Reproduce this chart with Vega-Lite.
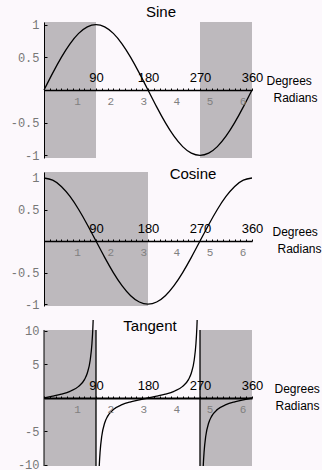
{
  "$schema": "https://vega.github.io/schema/vega-lite/v6.json",
  "background": "#fcf8fc",
  "padding": {"left": 10, "top": 4, "right": 0, "bottom": 0},
  "config": {
    "view": {"stroke": null},
    "axis": {"grid": false},
    "axisY": {"title": null, "tickColor": "#000", "domainColor": "#000",
      "labelFont": "Liberation Mono", "labelFontSize": 12, "labelColor": "#777"},
    "title": {"font": "Liberation Sans", "fontSize": 15, "fontWeight": "normal", "color": "#000", "anchor": "middle", "baseline": "alphabetic"}
  },
  "datasets": {
    "sin": [
      {"d": 0, "v": 0}, {"d": 15, "v": 0.2588}, {"d": 30, "v": 0.5}, {"d": 45, "v": 0.7071}, {"d": 60, "v": 0.866}, {"d": 75, "v": 0.9659},
      {"d": 90, "v": 1}, {"d": 105, "v": 0.9659}, {"d": 120, "v": 0.866}, {"d": 135, "v": 0.7071}, {"d": 150, "v": 0.5}, {"d": 165, "v": 0.2588},
      {"d": 180, "v": 0}, {"d": 195, "v": -0.2588}, {"d": 210, "v": -0.5}, {"d": 225, "v": -0.7071}, {"d": 240, "v": -0.866}, {"d": 255, "v": -0.9659},
      {"d": 270, "v": -1}, {"d": 285, "v": -0.9659}, {"d": 300, "v": -0.866}, {"d": 315, "v": -0.7071}, {"d": 330, "v": -0.5}, {"d": 345, "v": -0.2588},
      {"d": 360, "v": 0}
    ],
    "cos": [
      {"d": 0, "v": 1}, {"d": 15, "v": 0.9659}, {"d": 30, "v": 0.866}, {"d": 45, "v": 0.7071}, {"d": 60, "v": 0.5}, {"d": 75, "v": 0.2588},
      {"d": 90, "v": 0}, {"d": 105, "v": -0.2588}, {"d": 120, "v": -0.5}, {"d": 135, "v": -0.7071}, {"d": 150, "v": -0.866}, {"d": 165, "v": -0.9659},
      {"d": 180, "v": -1}, {"d": 195, "v": -0.9659}, {"d": 210, "v": -0.866}, {"d": 225, "v": -0.7071}, {"d": 240, "v": -0.5}, {"d": 255, "v": -0.2588},
      {"d": 270, "v": 0}, {"d": 285, "v": 0.2588}, {"d": 300, "v": 0.5}, {"d": 315, "v": 0.7071}, {"d": 330, "v": 0.866}, {"d": 345, "v": 0.9659},
      {"d": 360, "v": 1}
    ],
    "tan": [
      {"b": 1, "d": 0, "v": 0}, {"b": 1, "d": 15, "v": 0.268}, {"b": 1, "d": 30, "v": 0.577}, {"b": 1, "d": 45, "v": 1}, {"b": 1, "d": 60, "v": 1.732},
      {"b": 1, "d": 70, "v": 2.747}, {"b": 1, "d": 75, "v": 3.732}, {"b": 1, "d": 80, "v": 5.671}, {"b": 1, "d": 83, "v": 8.144}, {"b": 1, "d": 84, "v": 9.514},
      {"b": 1, "d": 85, "v": 11.43}, {"b": 1, "d": 86, "v": 14.3},
      {"b": 2, "d": 94, "v": -14.3}, {"b": 2, "d": 95, "v": -11.43}, {"b": 2, "d": 96, "v": -9.514}, {"b": 2, "d": 97, "v": -8.144}, {"b": 2, "d": 100, "v": -5.671},
      {"b": 2, "d": 105, "v": -3.732}, {"b": 2, "d": 110, "v": -2.747}, {"b": 2, "d": 120, "v": -1.732}, {"b": 2, "d": 135, "v": -1}, {"b": 2, "d": 150, "v": -0.577},
      {"b": 2, "d": 165, "v": -0.268}, {"b": 2, "d": 180, "v": 0}, {"b": 2, "d": 195, "v": 0.268}, {"b": 2, "d": 210, "v": 0.577}, {"b": 2, "d": 225, "v": 1},
      {"b": 2, "d": 240, "v": 1.732}, {"b": 2, "d": 250, "v": 2.747}, {"b": 2, "d": 255, "v": 3.732}, {"b": 2, "d": 260, "v": 5.671}, {"b": 2, "d": 263, "v": 8.144},
      {"b": 2, "d": 264, "v": 9.514}, {"b": 2, "d": 265, "v": 11.43}, {"b": 2, "d": 266, "v": 14.3},
      {"b": 3, "d": 274, "v": -14.3}, {"b": 3, "d": 275, "v": -11.43}, {"b": 3, "d": 276, "v": -9.514}, {"b": 3, "d": 277, "v": -8.144}, {"b": 3, "d": 280, "v": -5.671},
      {"b": 3, "d": 285, "v": -3.732}, {"b": 3, "d": 290, "v": -2.747}, {"b": 3, "d": 300, "v": -1.732}, {"b": 3, "d": 315, "v": -1}, {"b": 3, "d": 330, "v": -0.577},
      {"b": 3, "d": 345, "v": -0.268}, {"b": 3, "d": 360, "v": 0}
    ],
    "shadeSin": [{"a": 0, "e": 90}, {"a": 270, "e": 360}],
    "shadeCos": [{"a": 0, "e": 180}],
    "asym": [{"d": 90}, {"d": 270}],
    "zero": [{"d": 0}],
    "rad": [{"r": 0}, {"r": 6.2832}]
  },
  "vconcat": [
    {
      "title": {"text": "Sine", "dx": 13, "offset": -1},
      "width": 208, "height": 136,
      "resolve": {"scale": {"x": "independent"}, "axis": {"x": "independent"}},
      "layer": [
        {
          "data": {"name": "shadeSin"},
          "mark": {"type": "rect", "color": "#bdb9bd"},
          "encoding": {
            "x": {"field": "a", "type": "quantitative", "scale": {"domain": [0, 360], "nice": false, "zero": false},
              "axis": {"orient": "top", "offset": -68, "zindex": 1, "values": [0,10,20,30,40,50,60,70,80,90,100,110,120,130,140,150,160,170,180,190,200,210,220,230,240,250,260,270,280,290,300,310,320,330,340,350,360],
                "labelExpr": "datum.value % 90 == 0 && datum.value > 0 ? datum.label : ''",
                "tickSize": 2, "tickColor": "#000", "domainColor": "#000", "domainWidth": 1.5,
                "labelFont": "Liberation Sans", "labelFontSize": 13, "labelColor": "#000", "labelPadding": 4,
                "labelFlush": false, "labelOverlap": false, "labelBound": false,
                "title": "Degrees", "titleX": 222, "titleY": -6, "titleAlign": "left", "titleBaseline": "alphabetic", "titleAngle": 0,
                "titleFont": "Liberation Sans", "titleFontSize": 12, "titleFontWeight": "normal", "titleColor": "#000"}},
            "x2": {"field": "e"},
            "y": {"datum": 1.04, "type": "quantitative", "scale": {"domain": [-1.04, 1.04], "nice": false, "zero": false},
              "axis": {"zindex": 1, "tickSize": -3, "labelPadding": 8, "labelOverlap": false, "labelFlush": false, "labelBound": false,
                "values": [-1, -0.5, 0.5, 1], "labelExpr": "toString(datum.value)"}},
            "y2": {"datum": -1.04}
          }
        },
        {
          "data": {"name": "rad"},
          "mark": {"type": "point", "opacity": 0},
          "encoding": {
            "x": {"field": "r", "type": "quantitative", "scale": {"domain": [0, 6.2832], "nice": false, "zero": false},
              "axis": {"orient": "bottom", "offset": -68, "zindex": 1, "values": [1,2,3,4,5,6], "ticks": false, "domain": false,
                "labelFont": "Liberation Mono", "labelFontSize": 11, "labelColor": "#808080", "labelPadding": 5, "labelOverlap": false, "labelFlush": false,
                "title": "Radians", "titleX": 229, "titleY": 11, "titleAlign": "left", "titleBaseline": "alphabetic", "titleAngle": 0,
                "titleFont": "Liberation Sans", "titleFontSize": 12, "titleFontWeight": "normal", "titleColor": "#000"}},
            "y": {"datum": 0, "type": "quantitative"}
          }
        },
        {
          "data": {"name": "sin"},
          "mark": {"type": "line", "color": "#000", "strokeWidth": 1.3, "interpolate": "natural"},
          "encoding": {
            "x": {"field": "d", "type": "quantitative", "scale": {"domain": [0, 360], "nice": false, "zero": false}, "axis": null},
            "y": {"field": "v", "type": "quantitative"}
          }
        }
      ]
    },
    {
      "title": {"text": "Cosine", "dx": 45, "offset": -10},
      "width": 208, "height": 134,
      "resolve": {"scale": {"x": "independent"}, "axis": {"x": "independent"}},
      "layer": [
        {
          "data": {"name": "shadeCos"},
          "mark": {"type": "rect", "color": "#bdb9bd"},
          "encoding": {
            "x": {"field": "a", "type": "quantitative", "scale": {"domain": [0, 360], "nice": false, "zero": false},
              "axis": {"orient": "top", "offset": -69, "zindex": 1, "values": [0,10,20,30,40,50,60,70,80,90,100,110,120,130,140,150,160,170,180,190,200,210,220,230,240,250,260,270,280,290,300,310,320,330,340,350,360],
                "labelExpr": "datum.value % 90 == 0 && datum.value > 0 ? datum.label : ''",
                "tickSize": 2, "tickColor": "#000", "domainColor": "#000", "domainWidth": 1.5,
                "labelFont": "Liberation Sans", "labelFontSize": 13, "labelColor": "#000", "labelPadding": 4,
                "labelFlush": false, "labelOverlap": false, "labelBound": false,
                "title": "Degrees", "titleX": 228, "titleY": -6, "titleAlign": "left", "titleBaseline": "alphabetic", "titleAngle": 0,
                "titleFont": "Liberation Sans", "titleFontSize": 12, "titleFontWeight": "normal", "titleColor": "#000"}},
            "x2": {"field": "e"},
            "y": {"datum": 1.095, "type": "quantitative", "scale": {"domain": [-1.03, 1.095], "nice": false, "zero": false},
              "axis": {"zindex": 1, "tickSize": -3, "labelPadding": 8, "labelOverlap": false, "labelFlush": false, "labelBound": false,
                "values": [-1, -0.5, 0.5, 1], "labelExpr": "toString(datum.value)"}},
            "y2": {"datum": -1.03}
          }
        },
        {
          "data": {"name": "rad"},
          "mark": {"type": "point", "opacity": 0},
          "encoding": {
            "x": {"field": "r", "type": "quantitative", "scale": {"domain": [0, 6.2832], "nice": false, "zero": false},
              "axis": {"orient": "bottom", "offset": -65, "zindex": 1, "values": [1,2,3,4,5,6], "ticks": false, "domain": false,
                "labelFont": "Liberation Mono", "labelFontSize": 11, "labelColor": "#808080", "labelPadding": 5, "labelOverlap": false, "labelFlush": false,
                "title": "Radians", "titleX": 233, "titleY": 11, "titleAlign": "left", "titleBaseline": "alphabetic", "titleAngle": 0,
                "titleFont": "Liberation Sans", "titleFontSize": 12, "titleFontWeight": "normal", "titleColor": "#000"}},
            "y": {"datum": 0, "type": "quantitative"}
          }
        },
        {
          "data": {"name": "cos"},
          "mark": {"type": "line", "color": "#000", "strokeWidth": 1.3, "interpolate": "natural"},
          "encoding": {
            "x": {"field": "d", "type": "quantitative", "scale": {"domain": [0, 360], "nice": false, "zero": false}, "axis": null},
            "y": {"field": "v", "type": "quantitative"}
          }
        }
      ]
    },
    {
      "title": {"text": "Tangent", "dx": 2, "offset": -14},
      "width": 208, "height": 146,
      "resolve": {"scale": {"x": "independent"}, "axis": {"x": "independent"}},
      "layer": [
        {
          "data": {"name": "shadeSin"},
          "mark": {"type": "rect", "color": "#bdb9bd"},
          "encoding": {
            "x": {"field": "a", "type": "quantitative", "scale": {"domain": [0, 360], "nice": false, "zero": false},
              "axis": {"orient": "top", "offset": -78, "zindex": 1, "values": [0,10,20,30,40,50,60,70,80,90,100,110,120,130,140,150,160,170,180,190,200,210,220,230,240,250,260,270,280,290,300,310,320,330,340,350,360],
                "labelExpr": "datum.value % 90 == 0 && datum.value > 0 ? datum.label : ''",
                "tickSize": 2, "tickColor": "#000", "domainColor": "#000", "domainWidth": 2,
                "labelFont": "Liberation Sans", "labelFontSize": 13, "labelColor": "#000", "labelPadding": 4,
                "labelFlush": false, "labelOverlap": false, "labelBound": false,
                "title": "Degrees", "titleX": 230, "titleY": -6, "titleAlign": "left", "titleBaseline": "alphabetic", "titleAngle": 0,
                "titleFont": "Liberation Sans", "titleFontSize": 12, "titleFontWeight": "normal", "titleColor": "#000"}},
            "x2": {"field": "e"},
            "y": {"datum": 10.15, "type": "quantitative", "scale": {"domain": [-10.15, 11.64], "nice": false, "zero": false},
              "axis": {"zindex": 1, "tickSize": -3, "labelPadding": 8, "domain": false, "labelOverlap": false, "labelFlush": false, "labelBound": false,
                "values": [-10, -5, 5, 10], "labelExpr": "toString(datum.value)"}},
            "y2": {"datum": -10.15}
          }
        },
        {
          "data": {"name": "asym"},
          "mark": {"type": "rule", "color": "#000", "strokeWidth": 1.3},
          "encoding": {
            "x": {"field": "d", "type": "quantitative", "scale": {"domain": [0, 360], "nice": false, "zero": false}, "axis": null},
            "y": {"datum": 10.15, "type": "quantitative"},
            "y2": {"datum": -10.15}
          }
        },
        {
          "data": {"name": "zero"},
          "mark": {"type": "rule", "color": "#000", "strokeWidth": 1},
          "encoding": {
            "x": {"field": "d", "type": "quantitative", "scale": {"domain": [0, 360], "nice": false, "zero": false}, "axis": null},
            "y": {"datum": 10.15, "type": "quantitative"},
            "y2": {"datum": -10.15}
          }
        },
        {
          "data": {"name": "rad"},
          "mark": {"type": "point", "opacity": 0},
          "encoding": {
            "x": {"field": "r", "type": "quantitative", "scale": {"domain": [0, 6.2832], "nice": false, "zero": false},
              "axis": {"orient": "bottom", "offset": -68, "zindex": 1, "values": [1,2,3,4,5,6], "ticks": false, "domain": false,
                "labelFont": "Liberation Mono", "labelFontSize": 11, "labelColor": "#808080", "labelPadding": 5, "labelOverlap": false, "labelFlush": false,
                "title": "Radians", "titleX": 231, "titleY": 11, "titleAlign": "left", "titleBaseline": "alphabetic", "titleAngle": 0,
                "titleFont": "Liberation Sans", "titleFontSize": 12, "titleFontWeight": "normal", "titleColor": "#000"}},
            "y": {"datum": 0, "type": "quantitative"}
          }
        },
        {
          "data": {"name": "tan"},
          "mark": {"type": "line", "color": "#000", "strokeWidth": 1.3, "interpolate": "monotone", "clip": true},
          "encoding": {
            "x": {"field": "d", "type": "quantitative", "scale": {"domain": [0, 360], "nice": false, "zero": false}, "axis": null},
            "detail": {"field": "b", "type": "nominal"},
            "y": {"field": "v", "type": "quantitative"}
          }
        }
      ]
    }
  ],
  "spacing": 14,
  "bounds": "flush"
}
